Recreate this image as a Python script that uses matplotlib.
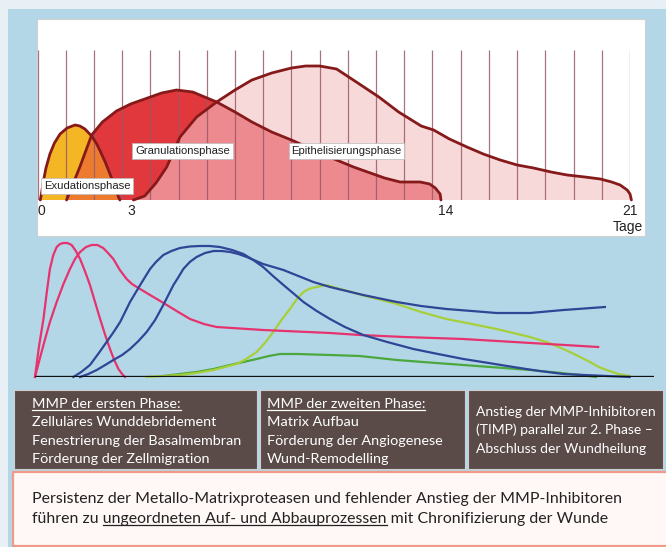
import numpy as np
import matplotlib
matplotlib.use('Agg')
import matplotlib.pyplot as plt
from matplotlib.patches import Rectangle
from matplotlib.lines import Line2D

# --- Phasen der Wundheilung (Tag, Höhe) ---
tage_ticks = [0, 3, 14, 21]

exud_tag = [0.1, 0.15, 0.21, 0.3, 0.44, 0.6, 0.8, 1.05, 1.33, 1.5, 1.68, 1.92, 2.1, 2.22, 2.4, 2.57, 2.75, 2.87, 2.92]
exud_h = [0, 8, 19, 32, 46, 57, 66, 72, 75, 74, 71, 64, 56, 49, 38, 26, 12, 3, 0]

gran_tag = [1.03, 1.2, 1.5, 1.92, 2.3, 2.8, 3.3, 3.9, 4.4, 4.93, 5.5, 6.35, 7.0, 7.6, 8.3, 9.0, 9.8,
            10.6, 11.2, 11.7, 12.3, 12.85, 13.56, 13.9, 14.1, 14.27, 14.3]
gran_h = [0, 12, 33, 65, 78, 89, 96, 102, 107, 110, 108, 98, 88, 78, 68, 60, 50,
          40, 33, 28, 22, 18, 18, 16, 12, 6, 0]

epi_tag = [3.4, 3.8, 4.2, 4.58, 5.05, 5.64, 6.35, 7.0, 7.6, 8.3, 9.0, 9.5, 10.0, 10.6, 11.3, 12.1, 12.8,
           13.6, 14.04, 14.6, 15.22, 15.8, 16.4, 17.0, 17.58, 18.2, 18.77, 19.4, 19.95, 20.35, 20.65,
           20.9, 21.0, 21.05]
epi_h = [0, 4, 17, 33, 63, 83, 98, 110, 120, 127, 132, 134, 134, 131, 118, 103, 88,
         74, 70, 61, 53, 46, 40, 35, 32, 28, 25, 23, 21, 18, 15,
         10, 6, 0]

phasen = ["Exudationsphase", "Granulationsphase", "Epithelisierungsphase"]
phasen_tag = [0.23, 3.46, 9.0]
phasen_h = [14, 49, 49]

# --- MMP / TIMP Verläufe ---
pink1_tag = [-0.09, 0.05, 0.21, 0.33, 0.44, 0.56, 0.68, 0.8, 0.92, 1.06, 1.21, 1.36, 1.51, 1.68, 1.86,
             2.04, 2.22, 2.4, 2.57, 2.72, 2.87, 3.0, 3.1]
pink1_h = [0, 30, 58, 85, 108, 122, 130, 133, 134, 134, 132, 126, 118, 106, 92,
           75, 58, 42, 28, 17, 8, 3, 0]

pink2_tag = [-0.09, 0.21, 0.44, 0.68, 0.92, 1.15, 1.33, 1.51, 1.72, 1.92, 2.12, 2.33, 2.5, 2.69, 2.92,
             3.16, 3.35, 3.52, 3.99, 4.35, 4.7, 5.05, 5.41, 5.9, 6.35, 8.0, 10.37, 11.43, 13.0, 15.1,
             17.5, 19.88]
pink2_h = [0, 32, 55, 75, 93, 108, 118, 125, 130, 132, 132, 129, 124, 118, 107,
           98, 93, 90, 82, 76, 70, 64, 58, 53, 50, 47, 44, 42, 40, 38,
           34, 30]

blau1_tag = [1.27, 1.55, 1.86, 2.15, 2.45, 2.7, 2.93, 3.28, 3.64, 3.99, 4.2, 4.46, 4.75, 5.05, 5.4,
             5.76, 6.1, 6.47, 6.9, 7.3, 7.65, 8.0, 8.35, 8.72, 9.1, 9.43, 9.9, 10.37, 10.9, 11.55,
             12.4, 13.33, 14.2, 15.1, 16.0, 16.87, 17.8, 18.65, 19.4, 20.18, 21.0]
blau1_h = [0, 5, 12, 23, 35, 45, 55, 75, 92, 108, 115, 122, 126, 129, 130.5,
           131, 131, 130, 127, 123, 117, 110, 101, 92, 83, 75, 66, 58, 50, 42,
           35, 28, 23, 18, 14, 10, 6, 3, 2, 1, 0]

blau2_tag = [1.51, 1.8, 2.1, 2.4, 2.69, 3.0, 3.28, 3.58, 3.87, 4.17, 4.46, 4.64, 4.82, 5.0, 5.17,
             5.4, 5.64, 5.94, 6.24, 6.53, 6.83, 7.12, 7.42, 8.0, 8.72, 9.78, 10.37, 11.55, 12.74,
             13.6, 14.5, 15.4, 16.28, 17.46, 18.65, 19.4, 20.12]
blau2_h = [0, 3, 7, 12, 17, 22, 28, 36, 45, 57, 72, 82, 92, 100, 108,
           115, 120, 124, 126, 126, 125, 123, 120, 113, 107, 95, 90, 82, 75,
           71, 68, 66, 64, 64, 67, 68.5, 70]

hellgruen_tag = [3.87, 5.05, 5.64, 6.24, 6.65, 7.06, 7.4, 7.77, 8.06, 8.36, 8.65, 8.95, 9.2, 9.43, 9.66,
                 9.9, 10.25, 10.6, 11.0, 11.55, 12.2, 12.74, 13.6, 14.5, 15.4, 16.28, 17.46, 18.1,
                 18.65, 19.1, 19.59, 19.9, 20.18, 20.6, 21.0]
hellgruen_h = [0, 2, 4, 7, 10, 13, 18, 25, 34, 45, 57, 68, 78, 85, 88.5,
               90, 92, 89, 86, 81.5, 77, 73, 65, 58, 53, 48, 40, 34.5,
               28, 22, 15, 10, 7, 3, 1]

dunkelgruen_tag = [4.46, 5.64, 6.24, 6.83, 7.3, 7.77, 8.2, 8.6, 9.2, 10.37, 11.43, 12.74, 13.9, 15.1,
                   16.3, 17.46, 18.4, 19.24, 19.8]
dunkelgruen_h = [1, 5, 8, 12, 15, 18, 21, 23, 23, 22, 21, 17, 14.5, 12,
                 9.5, 7, 4.5, 2, 0]

# --- Texte ---
box1 = ["MMP der ersten Phase:", "Zelluläres Wunddebridement", "Fenestrierung der Basalmembran",
        "Förderung der Zellmigration"]
box2 = ["MMP der zweiten Phase:", "Matrix Aufbau", "Förderung der Angiogenese", "Wund-Remodelling"]
box3 = ["Anstieg der MMP-Inhibitoren", "(TIMP) parallel zur 2. Phase –", "Abschluss der Wundheilung"]
fazit1 = "Persistenz der Metallo-Matrixproteasen und fehlender Anstieg der MMP-Inhibitoren"
fazit2_vor = "führen zu"
fazit2_unter = "ungeordneten Auf- und Abbauprozessen"
fazit2_nach = "mit Chronifizierung der Wunde"

W, H = 666, 547
schrift = ['Lato', 'DejaVu Sans']
schmal = ['Liberation Sans Narrow', 'Liberation Sans', 'DejaVu Sans']

fig = plt.figure(figsize=(W / 100, H / 100), dpi=100, facecolor='#e8f0f6')
renderer = fig.canvas.get_renderer()


def rechteck(x0, y0, x1, y1, **kw):
    r = Rectangle((x0 / W, 1 - y1 / H), (x1 - x0) / W, (y1 - y0) / H, transform=fig.transFigure, **kw)
    fig.add_artist(r)
    return r


def schreibe(x, y, s, **kw):
    return fig.text(x / W, 1 - y / H, s, va='baseline', **kw)


def breite(s, **kw):
    t = fig.text(0, 0, s, **kw)
    w = t.get_window_extent(renderer).width
    t.remove()
    return w


def linie(x0, x1, y, color, lw=0.9):
    fig.add_artist(Line2D([x0 / W, x1 / W], [1 - y / H, 1 - y / H], transform=fig.transFigure,
                          color=color, lw=lw, zorder=3))


# Hintergrund
rechteck(8, 9, W, H, facecolor='#b4d7e8', edgecolor='none', zorder=-3)
rechteck(37, 19, 645, 236, facecolor='white', edgecolor='#d0d0d0', lw=0.8, zorder=-2)

# --- oberes Diagramm: Phasen ---
ax = fig.add_axes([37.5 / W, 1 - 200 / H, 592.5 / W, 150 / H])
ax.set_xlim(0, 21)
ax.set_ylim(0, 150)
ax.axis('off')

p_epi = ax.fill(epi_tag, epi_h, color='#f8d9da', zorder=1, lw=0)[0]
p_gran = ax.fill(gran_tag, gran_h, color='#e0383c', zorder=2, lw=0)[0]
ueber1 = ax.fill(gran_tag, gran_h, color='#ec8a8f', zorder=3, lw=0)[0]
ueber1.set_clip_path(p_epi)
ax.fill(exud_tag, exud_h, color='#f5b625', zorder=2, lw=0)
ueber2 = ax.fill(exud_tag, exud_h, color='#ec7b30', zorder=3, lw=0)[0]
ueber2.set_clip_path(p_gran)

ax.vlines(np.arange(22), 0, 150, color='#9a5a68', lw=0.9, alpha=0.85, zorder=4)

for tag, h in [(epi_tag, epi_h), (gran_tag, gran_h), (exud_tag, exud_h)]:
    ax.plot(tag, h, color='#861a1a', lw=2.0, zorder=5, solid_capstyle='round', clip_on=False)

for name, t, h in zip(phasen, phasen_tag, phasen_h):
    ax.text(t, h, name, fontsize=8.1, family=schmal, va='center', ha='left', zorder=6, color='#222222',
            bbox=dict(boxstyle='square,pad=0.25', fc='white', ec='#bbbbbb', lw=0.5))

for t in tage_ticks:
    ax.text(t + (0.2 if 0 < t < 21 else 0), -11, str(t), fontsize=10, family=schmal, va='center',
            ha='left' if t < 21 else 'center', color='#222222', clip_on=False)
ax.text(21.45, -27, "Tage", fontsize=10, family=schmal, va='center', ha='right', color='#222222',
        clip_on=False)

# --- unteres Diagramm: MMP / TIMP ---
ax2 = fig.add_axes([35 / W, 1 - 377 / H, 619 / W, 140 / H])
ax2.set_xlim(-0.089, 21.86)
ax2.set_ylim(0, 140)
ax2.axis('off')
ax2.axhline(0, color='#111111', lw=2.4, zorder=5)

lw = 1.6
ax2.plot(dunkelgruen_tag, dunkelgruen_h, color='#4aa83c', lw=lw, zorder=2, clip_on=False)
ax2.plot(hellgruen_tag, hellgruen_h, color='#a6cf3a', lw=lw, zorder=2, clip_on=False)
ax2.plot(pink1_tag, pink1_h, color='#e6336e', lw=lw, zorder=3, clip_on=False)
ax2.plot(pink2_tag, pink2_h, color='#e6336e', lw=lw, zorder=3, clip_on=False)
ax2.plot(blau1_tag, blau1_h, color='#2f4596', lw=lw, zorder=4, clip_on=False)
ax2.plot(blau2_tag, blau2_h, color='#2f4596', lw=lw, zorder=4, clip_on=False)

# --- Textboxen ---
box_farbe = '#5a4b48'
rechteck(14, 390, 257, 469, facecolor=box_farbe, edgecolor='#cfcfcf', lw=0.8)
rechteck(260, 390, 465, 469, facecolor=box_farbe, edgecolor='#cfcfcf', lw=0.8)
rechteck(468, 390, 663, 469, facecolor=box_farbe, edgecolor='#cfcfcf', lw=0.8)

fs_box = 10.4
for x0, zeilen in [(32, box1), (267, box2)]:
    for i, z in enumerate(zeilen):
        t = schreibe(x0, 408 + i * 18.3, z, fontsize=fs_box, family=schrift, color='white')
        if i == 0:
            w = breite(z, fontsize=fs_box, family=schrift)
            linie(x0, x0 + w, 408 + 2, 'white')
for i, z in enumerate(box3):
    schreibe(476, 416 + i * 18.5, z, fontsize=10, family=schrift, color='white')

# --- Fazit ---
rechteck(13, 472, 668, 546, facecolor='#fff8f6', edgecolor='#f09a8a', lw=1.6)
fs_f = 11.45
fazit2 = fazit2_vor + " " + fazit2_unter + " " + fazit2_nach
schreibe(32, 503, fazit1, fontsize=fs_f, family=schrift, color='#222222')
schreibe(32, 523, fazit2, fontsize=fs_f, family=schrift, color='#222222')
x_a = 32 + breite(fazit2_vor + " u", fontsize=fs_f, family=schrift) - breite("u", fontsize=fs_f, family=schrift)
x_b = 32 + breite(fazit2_vor + " " + fazit2_unter, fontsize=fs_f, family=schrift)
linie(x_a, x_b, 525, '#222222')

fig.savefig('out.png', dpi=100, facecolor=fig.get_facecolor())
